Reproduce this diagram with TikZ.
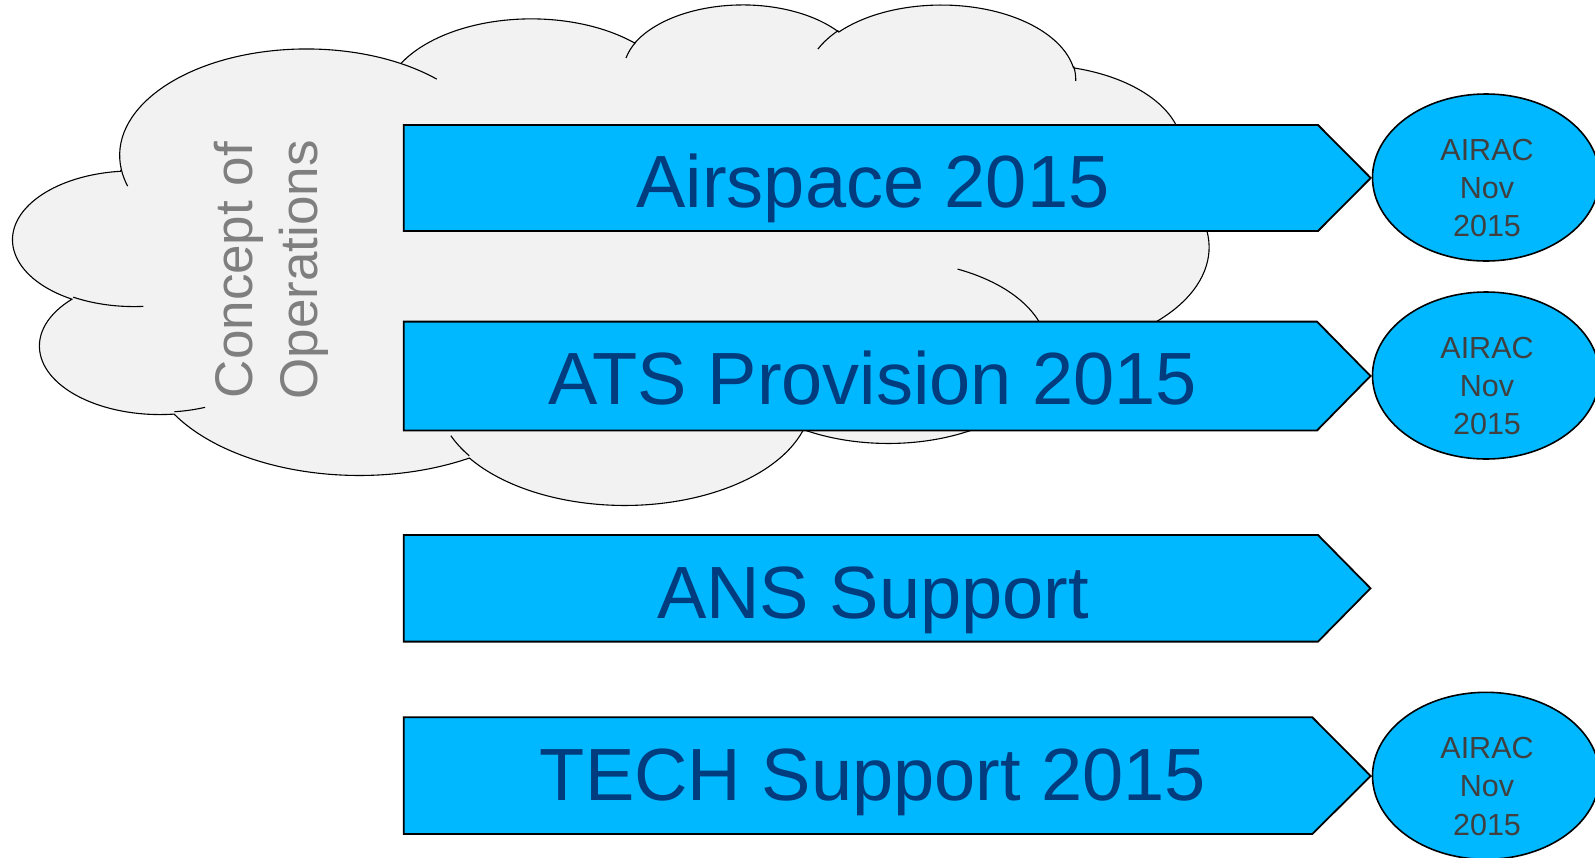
\documentclass[tikz,border=0pt]{standalone}
\usepackage{fontspec}
\setmainfont{Liberation Sans}
\usetikzlibrary{shapes.geometric}
\definecolor{bandfill}{HTML}{00B8FF}
\definecolor{bandtext}{HTML}{003C7E}
\definecolor{cloudfill}{HTML}{F2F2F2}
\definecolor{airactext}{HTML}{404040}
\definecolor{conopstext}{HTML}{7F7F7F}
\def\csx{0.027662}
\def\csy{0.011574}
% wR hR in 43200-units, angles in degrees (OOXML visual angles, y down)
\newcommand\mkarc[5]{%
  \pgfmathsetmacro\arcTa{atan2((#2)*sin(#4),(#3)*cos(#4))}%
  \pgfmathsetmacro\arcTb{atan2((#2)*sin((#4)+(#5)),(#3)*cos((#4)+(#5)))}%
  \pgfmathsetmacro\arcTd{(\arcTb)-(\arcTa)}%
  \pgfmathsetmacro\arcTd{(\arcTd)+360*round(((#5)-(\arcTd))/360)}%
  \pgfmathsetmacro\arcTs{0-(\arcTa)}%
  \pgfmathsetmacro\arcTe{0-(\arcTd)}%
  \pgfmathsetmacro\arcRx{(#2)*\csx}%
  \pgfmathsetmacro\arcRy{(#3)*\csy}%
  \edef\arcTmp{\noexpand\tikzset{#1/.style={start angle=\arcTs,delta angle=\arcTe,x radius=\arcRx pt,y radius=\arcRy pt}}}%
  \arcTmp}
\mkarc{caA}{6753}{9190}{-190.48748}{123.78053}
\mkarc{caB}{5333}{7267}{-144.10238}{89.94523}
\mkarc{caC}{4365}{5945}{-145.80792}{99.72302}
\mkarc{caD}{4857}{6595}{-130.98607}{117.24173}
\mkarc{caE}{5333}{7273}{-78.70888}{109.02692}
\mkarc{caF}{6775}{9220}{-46.26725}{130.269}
\mkarc{caG}{5785}{7867}{0.62502}{114.03333}
\mkarc{caH}{6752}{9215}{22.4516}{115.17255}
\mkarc{caI}{7720}{10543}{66.24263}{75.71102}
\mkarc{caJ}{4360}{5918}{-274.94208}{146.73557}
\mkarc{caK}{4345}{5945}{-246.8285}{152.53013}
\mkarc{iaA}{4345}{5945}{86.742}{26.4295}
\mkarc{iaB}{4360}{5918}{73.61047}{11.44747}
\mkarc{iaC}{6752}{9215}{137.62415}{14.0811}
\mkarc{iaD}{6752}{9215}{6.45327}{15.99835}
\mkarc{iaE}{5785}{7867}{-70.29235}{77.029}
\mkarc{iaF}{5333}{7273}{30.31803}{27.7515}
\mkarc{iaG}{4857}{6595}{-13.74433}{14.8589}
\mkarc{iaH}{4857}{6595}{-149.18145}{18.19537}
\mkarc{iaI}{4365}{5945}{-163.49427}{17.68635}
\mkarc{iaJ}{6753}{9190}{-66.70695}{12.31935}
\mkarc{iaK}{6753}{9190}{157.65435}{11.85817}
\begin{document}
\begin{tikzpicture}[x=1pt,y=-1pt,
  cloudshape/.style={fill=cloudfill,draw=black,line width=1.1pt},
  cloudline/.style={draw=black,line width=1.1pt},
  band/.style={fill=bandfill,draw=black,line width=1.8pt,line join=miter},
  bandlabel/.style={text=bandtext,font=\fontsize{74}{80}\selectfont,anchor=base,inner sep=0pt},
  airacell/.style={ellipse,fill=bandfill,draw=black,line width=1.6pt,minimum width=227pt,minimum height=167pt,inner sep=0pt},
  airaclabel/.style={text=airactext,font=\fontsize{30.5}{36}\selectfont,anchor=base,inner sep=0pt},
  conopslabel/.style={text=conopstext,font=\fontsize{53}{60}\selectfont,anchor=base,inner sep=0pt,rotate=90}]
\useasboundingbox (0,0) rectangle (1595,857);
\begin{scope}
\clip (0,0) rectangle (1595,857);
\fill[white] (0,0) rectangle (1595,857);
% cloud
\path[cloudshape] (121.38,169.72) arc[caA] arc[caB] arc[caC] arc[caD] arc[caE] arc[caF]
  arc[caG] arc[caH] arc[caI] arc[caJ] arc[caK] -- cycle;
\path[cloudline] (143.32,306.37) arc[iaA] (205.14,407.32) arc[iaB]
  (469.32,455.83) arc[iaC] (810.91,405.61) arc[iaD] (957.58,269.07) arc[iaE]
  (1169.72,181.11) arc[iaF] (1073.62,66.20) arc[iaG] (817.86,49.14) arc[iaH]
  (625.97,58.03) arc[iaI] (400.77,63.49) arc[iaJ] (127.66,186.14) arc[iaK];
\node[conopslabel] (con1) at (252,270) {Concept of};
\node[conopslabel] (con2) at (317.5,270) {Operations};
% bands
\draw[band] (403.8,125) -- (1318,125) -- (1370.7,178) -- (1318,231) -- (403.8,231) -- cycle;
\draw[band] (403.8,321.6) -- (1317,321.6) -- (1370.5,376) -- (1317,430.5) -- (403.8,430.5) -- cycle;
\draw[band] (403.8,535) -- (1318,535) -- (1370.5,588.3) -- (1318,641.6) -- (403.8,641.6) -- cycle;
\draw[band] (403.8,717.3) -- (1312.3,717.3) -- (1370.7,776) -- (1312.3,834) -- (403.8,834) -- cycle;
\node[bandlabel] (b1) at (873,207.3) {Airspace 2015};
\node[bandlabel] (b2) at (873,404.3) {ATS Provision 2015};
\node[bandlabel] (b3) at (873,618.3) {ANS Support};
\node[bandlabel] (b4) at (873,800) {TECH Support 2015};
% AIRAC ellipses
\node[airacell] (e1) at (1486,177.5) {};
\node[airacell] (e2) at (1486,375.5) {};
\node[airacell] (e3) at (1486,775.8) {};
\foreach \cy/\nm in {177.5/p, 375.5/q, 775.8/r}{
  \node[airaclabel] (\nm1) at (1487,\cy-17.5) {AIRAC};
  \node[airaclabel] (\nm2) at (1487,\cy+20.8) {Nov};
  \node[airaclabel] (\nm3) at (1487,\cy+59.2) {2015};
}
\end{scope}
\end{tikzpicture}
\end{document}
